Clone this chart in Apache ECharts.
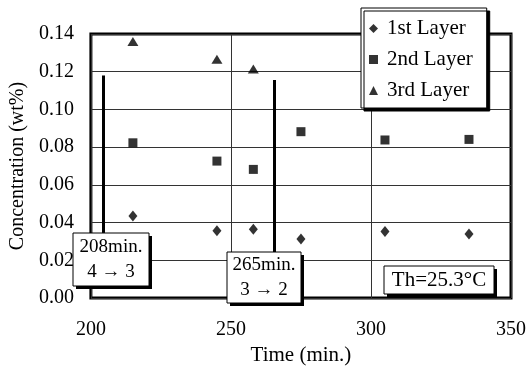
<!DOCTYPE html>
<html>
<head>
<meta charset="utf-8">
<script src="https://cdn.jsdelivr.net/npm/echarts@6/dist/echarts.min.js"></script>
<style>
html,body{margin:0;padding:0;background:#fff;}
#c{width:529px;height:371px;}
</style>
</head>
<body>
<div id="c"></div>
<script>
// ---- data ----
const times = [215, 245, 258, 275, 305, 335];
const layer1 = [0.0435, 0.0357, 0.0364, 0.0313, 0.0352, 0.0339];
const layer2 = [0.0823, 0.0726, 0.0682, 0.0882, 0.0838, 0.0841];
const layer3Times = [215, 245, 258];
const layer3 = [0.1360, 0.1266, 0.1214];
const seriesNames = ['1st Layer', '2nd Layer', '3rd Layer'];
const eventTimes = [204.5, 265.5];
const eventTops = [0.118, 0.1156];
const eventBottoms = [0.0345, 0.0244];   // where each line meets its label box
const eventLabels = [['208min.', '4 \u2192 3'], ['265min.', '3 \u2192 2']];
const xTicks = [200, 250, 300, 350];
const yTicks = [0, 0.02, 0.04, 0.06, 0.08, 0.10, 0.12, 0.14];
const noteText = 'Th=25.3\u00B0C';

const FONT = '"Liberation Serif", "Times New Roman", serif';
const chart = echarts.init(document.getElementById('c'), null, {renderer: 'canvas'});

function pairs(xs, ys) { return xs.map((x, i) => [x, ys[i]]); }

function boxEls(x, y, w, h, lines, lh, fs) {
  const els = [
    {type: 'rect', z: 100, shape: {x: x + 3, y: y + 3, width: w, height: h}, style: {fill: '#000'}},
    {type: 'rect', z: 101, shape: {x: x, y: y, width: w, height: h}, style: {fill: '#ffffff', stroke: '#000', lineWidth: 1}}
  ];
  lines.forEach((t, i) => {
    els.push({type: 'text', z: 102, x: x + w / 2, y: y + lh * (i + 0.5) + (h - lh * lines.length) / 2,
      style: {text: t, font: fs + 'px ' + FONT, fill: '#000', textAlign: 'center', textVerticalAlign: 'middle'}});
  });
  return els;
}

const option = {
  animation: false,
  backgroundColor: '#fff',
  textStyle: {fontFamily: FONT},
  grid: {left: 88, right: 17, top: 34, bottom: 73, show: true, borderColor: '#000', borderWidth: 3, backgroundColor: 'transparent'},
  legend: {
    orient: 'vertical', left: 361, top: 8,
    data: seriesNames,
    backgroundColor: '#fff', borderColor: '#000', borderWidth: 1,
    shadowColor: '#000', shadowBlur: 0, shadowOffsetX: 3, shadowOffsetY: 3,
    padding: [10, 14, 7, 8], itemGap: 10, itemWidth: 9, itemHeight: 9,
    textStyle: {fontFamily: FONT, fontSize: 21, color: '#000', padding: [0, 0, 0, 4]}
  },
  xAxis: {
    type: 'value', min: xTicks[0], max: xTicks[xTicks.length - 1], interval: 50,
    name: 'Time (min.)', nameLocation: 'middle', nameGap: 44,
    nameTextStyle: {fontFamily: FONT, fontSize: 21, color: '#000'},
    axisLine: {show: false}, axisTick: {show: false},
    axisLabel: {margin: 22, fontFamily: FONT, fontSize: 20, color: '#000'},
    splitLine: {show: true, lineStyle: {color: '#333', width: 1}}
  },
  yAxis: {
    type: 'value', min: yTicks[0], max: yTicks[yTicks.length - 1], interval: 0.02,
    name: 'Concentration (wt%)', nameLocation: 'middle', nameGap: 59, nameRotate: 90,
    nameTextStyle: {fontFamily: FONT, fontSize: 20, color: '#000'},
    axisLine: {show: false}, axisTick: {show: false},
    axisLabel: {margin: 17, fontFamily: FONT, fontSize: 20, color: '#000', formatter: v => v.toFixed(2)},
    splitLine: {show: true, lineStyle: {color: '#333', width: 1}}
  },
  series: [
    {name: seriesNames[0], type: 'scatter', symbol: 'diamond', symbolSize: [9, 11], itemStyle: {color: '#000'},
      data: pairs(times, layer1), z: 5,
      markLine: {
        silent: true, symbol: 'none', animation: false,
        lineStyle: {color: '#000', width: 3, type: 'solid'},
        label: {show: false},
        data: eventTimes.map((t, i) => [{coord: [t, eventTops[i]]}, {coord: [t, eventBottoms[i]]}])
      }},
    {name: seriesNames[1], type: 'scatter', symbol: 'rect', symbolSize: 9, itemStyle: {color: '#000'},
      data: pairs(times, layer2), z: 5},
    {name: seriesNames[2], type: 'scatter', symbol: 'triangle', symbolSize: [11, 9], itemStyle: {color: '#000'},
      data: pairs(layer3Times, layer3), z: 5}
  ],
  graphic: {
    elements: [].concat(
      boxEls(73, 233, 76, 53, eventLabels[0], 25, 19),
      boxEls(227, 252, 74, 51, eventLabels[1], 25, 19),
      boxEls(384, 266, 110, 28, [noteText], 26, 21)
    )
  }
};
chart.setOption(option);
</script>
</body>
</html>
